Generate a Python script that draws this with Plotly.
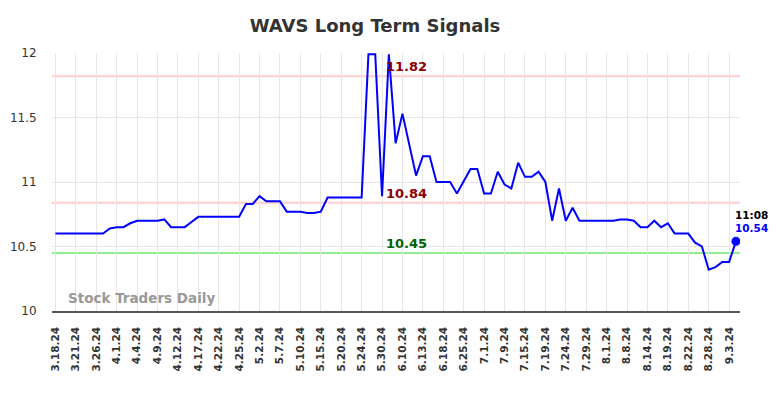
import plotly.graph_objects as go

dates = [
    "3.18.24", "3.19.24", "3.20.24", "3.21.24", "3.22.24", "3.25.24", "3.26.24", "3.27.24", "3.28.24",
    "4.1.24", "4.2.24", "4.3.24", "4.4.24", "4.5.24", "4.8.24", "4.9.24", "4.10.24", "4.11.24",
    "4.12.24", "4.15.24", "4.16.24", "4.17.24", "4.18.24", "4.19.24", "4.22.24", "4.23.24", "4.24.24",
    "4.25.24", "4.29.24", "5.1.24", "5.2.24", "5.3.24", "5.6.24", "5.7.24", "5.8.24", "5.9.24",
    "5.10.24", "5.13.24", "5.14.24", "5.15.24", "5.16.24", "5.17.24", "5.20.24", "5.21.24", "5.23.24",
    "5.24.24", "5.28.24", "5.29.24", "5.30.24", "6.4.24", "6.7.24", "6.10.24", "6.11.24", "6.12.24",
    "6.13.24", "6.14.24", "6.17.24", "6.18.24", "6.21.24", "6.24.24", "6.25.24", "6.26.24", "6.28.24",
    "7.1.24", "7.3.24", "7.8.24", "7.9.24", "7.10.24", "7.12.24", "7.15.24", "7.16.24", "7.18.24",
    "7.19.24", "7.22.24", "7.23.24", "7.24.24", "7.25.24", "7.26.24", "7.29.24", "7.30.24", "7.31.24",
    "8.1.24", "8.5.24", "8.7.24", "8.8.24", "8.12.24", "8.13.24", "8.14.24", "8.15.24", "8.16.24",
    "8.19.24", "8.20.24", "8.21.24", "8.22.24", "8.26.24", "8.27.24", "8.28.24", "8.29.24", "8.30.24",
    "9.3.24", "9.4.24",
]

prices = [
    10.60, 10.60, 10.60, 10.60, 10.60, 10.60, 10.60, 10.60, 10.64, 10.65,
    10.65, 10.68, 10.70, 10.70, 10.70, 10.70, 10.71, 10.65, 10.65, 10.65,
    10.69, 10.73, 10.73, 10.73, 10.73, 10.73, 10.73, 10.73, 10.83, 10.83,
    10.89, 10.85, 10.85, 10.85, 10.77, 10.77, 10.77, 10.76, 10.76, 10.77,
    10.88, 10.88, 10.88, 10.88, 10.88, 10.88, 11.99, 11.99, 10.89, 11.99,
    11.30, 11.53, 11.29, 11.05, 11.20, 11.20, 11.00, 11.00, 11.00, 10.91,
    11.00, 11.10, 11.10, 10.91, 10.91, 11.08, 10.98, 10.95, 11.15, 11.04,
    11.04, 11.08, 11.00, 10.70, 10.95, 10.70, 10.80, 10.70, 10.70, 10.70,
    10.70, 10.70, 10.70, 10.71, 10.71, 10.70, 10.65, 10.65, 10.70, 10.65,
    10.68, 10.60, 10.60, 10.60, 10.53, 10.50, 10.32, 10.34, 10.38, 10.38,
    10.54,
]

tick_labels = [
    "3.18.24", "3.21.24", "3.26.24", "4.1.24", "4.4.24", "4.9.24", "4.12.24", "4.17.24", "4.22.24",
    "4.25.24", "5.2.24", "5.7.24", "5.10.24", "5.15.24", "5.20.24", "5.24.24", "5.30.24", "6.10.24",
    "6.13.24", "6.18.24", "6.25.24", "7.1.24", "7.9.24", "7.15.24", "7.19.24", "7.24.24", "7.29.24",
    "8.1.24", "8.8.24", "8.14.24", "8.19.24", "8.22.24", "8.28.24", "9.3.24",
]

resistance_levels = [11.82, 10.84]
support_levels = [10.45]
y_ticks = [10, 10.5, 11, 11.5, 12]
last_time = "11:08"

FONT = "DejaVu Sans"

fig = go.Figure()
fig.add_trace(go.Scatter(
    x=dates, y=prices, mode="lines",
    line=dict(color="#0000ff", width=2),
    hoverinfo="skip", showlegend=False,
))
fig.add_trace(go.Scatter(
    x=[dates[-1]], y=[prices[-1]], mode="markers",
    marker=dict(color="#0000ff", size=9),
    hoverinfo="skip", showlegend=False,
))

for lvl in resistance_levels:
    fig.add_shape(type="line", xref="paper", x0=0, x1=1, yref="y", y0=lvl, y1=lvl,
                  line=dict(color="#ffcccc", width=2), layer="below")
    fig.add_annotation(xref="paper", x=0.482, yref="y", y=lvl, xanchor="left", yanchor="bottom",
                       yshift=0, text=f"<b>{lvl:.2f}</b>", showarrow=False,
                       font=dict(family=FONT, size=13, color="#8b0000"))
for lvl in support_levels:
    fig.add_shape(type="line", xref="paper", x0=0, x1=1, yref="y", y0=lvl, y1=lvl,
                  line=dict(color="#90ee90", width=2), layer="below")
    fig.add_annotation(xref="paper", x=0.482, yref="y", y=lvl, xanchor="left", yanchor="bottom",
                       yshift=0, text=f"<b>{lvl:.2f}</b>", showarrow=False,
                       font=dict(family=FONT, size=13, color="#006400"))

fig.add_annotation(x=dates[-1], y=prices[-1], xref="x", yref="y", xanchor="left", yanchor="bottom",
                   xshift=-3, yshift=18, text=f"<b>{last_time}</b>", showarrow=False,
                   font=dict(family=FONT, size=10.5, color="#000000"))
fig.add_annotation(x=dates[-1], y=prices[-1], xref="x", yref="y", xanchor="left", yanchor="bottom",
                   xshift=-3, yshift=5, text=f"<b>{prices[-1]:.2f}</b>", showarrow=False,
                   font=dict(family=FONT, size=10.5, color="#0000ff"))

fig.add_annotation(xref="paper", yref="paper", x=0.02, y=0.01, xanchor="left", yanchor="bottom",
                   text="<b>Stock Traders Daily</b>", showarrow=False,
                   font=dict(family=FONT, size=13.5, color="#999999"))

# the page body has an 8px margin, so the figure is sized to fill the rest of the window
fig.update_layout(
    width=776, height=390,
    margin=dict(l=44, r=44, t=45, b=87),
    paper_bgcolor="white", plot_bgcolor="white",
    title=dict(text="<b>WAVS Long Term Signals</b>", x=0.473, xanchor="center",
               y=0.954, yanchor="middle",
               font=dict(family=FONT, size=18, color="#333333")),
    font=dict(family=FONT),
)
fig.update_xaxes(
    type="category", tickmode="array", tickvals=tick_labels, ticktext=tick_labels,
    tickangle=-90, tickfont=dict(family=FONT, size=10.5, color="#333333", weight="bold"),
    ticks="outside", ticklen=10, tickcolor="rgba(0,0,0,0)",
    showgrid=True, gridcolor="#e6e6e6", gridwidth=1,
    showline=True, linecolor="#555555", linewidth=1.5,
    range=[-0.5, len(dates) - 0.4], fixedrange=True, automargin=False,
)
fig.update_yaxes(
    range=[10, 12], tickvals=y_ticks, ticktext=[f"{v:g}" for v in y_ticks],
    tickfont=dict(family=FONT, size=12, color="#333333"),
    ticks="outside", ticklen=12, tickcolor="rgba(0,0,0,0)",
    showgrid=True, gridcolor="#e6e6e6", gridwidth=1, zeroline=False, automargin=False,
)

fig.write_html("out.html")
